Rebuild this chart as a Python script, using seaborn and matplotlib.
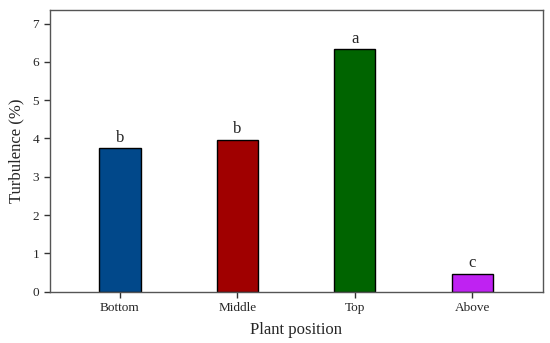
import pandas as pd
import matplotlib
matplotlib.use("Agg")
import matplotlib.pyplot as plt
import seaborn as sns

positions = ["Bottom", "Middle", "Top", "Above"]
turbulence = [3.75, 3.97, 6.33, 0.47]
letters = ["b", "b", "a", "c"]
colors = ["#01488a", "#a00000", "#006400", "#bf22f2"]

sns.set_theme(style="ticks")
plt.rcParams["font.family"] = ["Liberation Serif", "DejaVu Serif"]

df = pd.DataFrame({"position": positions, "turbulence": turbulence})

fig, ax = plt.subplots(figsize=(5.5, 3.43), dpi=100)
sns.barplot(data=df, x="position", y="turbulence", hue="position",
            palette=colors, saturation=1, width=0.35, edgecolor="black",
            linewidth=1.0, legend=False, ax=ax)

for i, (v, lab) in enumerate(zip(turbulence, letters)):
    ax.text(i, v + 0.06, lab, ha="center", va="bottom", fontsize=12)

ax.set_xlim(-0.6, 3.6)
ax.set_ylim(0, 7.35)
ax.set_yticks(range(0, 8))
ax.set_xlabel("Plant position", fontsize=12, labelpad=6)
ax.set_ylabel("Turbulence (%)", fontsize=12, labelpad=6)
ax.tick_params(axis="both", labelsize=9.5, length=4, width=1, direction="out",
               color="#333333")
for s in ax.spines.values():
    s.set_color("#555555")
    s.set_linewidth(1.0)

fig.subplots_adjust(left=0.09, right=0.987, top=0.97, bottom=0.15)
fig.savefig("out.png", dpi=100)
